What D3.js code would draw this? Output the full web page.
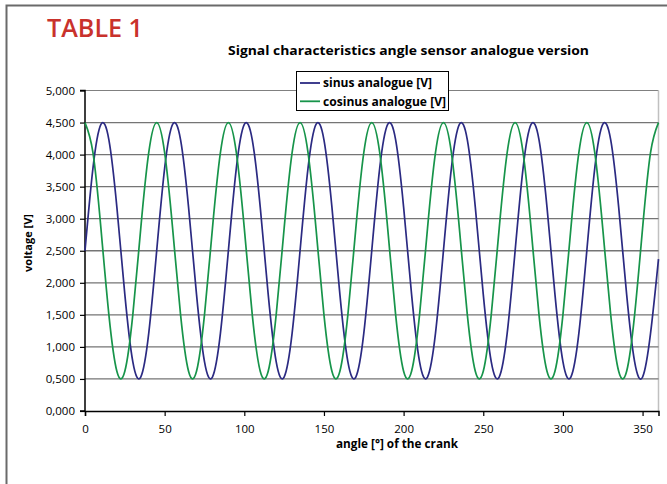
<!DOCTYPE html>
<html>
<head>
<meta charset="utf-8">
<script src="https://cdn.jsdelivr.net/npm/d3@7/dist/d3.min.js"></script>
<style>
  html, body { margin: 0; padding: 0; background: #fff; }
  svg { display: block; }
  text { font-family: "Open Sans", "DejaVu Sans", sans-serif; }
</style>
</head>
<body>
<svg id="chart" width="667" height="484"></svg>
<script>
// ---- data ----
const angles = [
  0,5,10,15,20,25,30,35,40,45,50,55,60,65,70,75,80,85,90,95,100,105,110,115,120,125,130,135,140,145,
  150,155,160,165,170,175,180,185,190,195,200,205,210,215,220,225,230,235,240,245,250,255,260,265,270,
  275,280,285,290,295,300,305,310,315,320,325,330,335,340,345,350,355,360
];
const sinusValues = [
  2.50,3.79,4.47,4.23,3.18,1.82,0.77,0.53,1.21,
  2.50,3.79,4.47,4.23,3.18,1.82,0.77,0.53,1.21,
  2.50,3.79,4.47,4.23,3.18,1.82,0.77,0.53,1.21,
  2.50,3.79,4.47,4.23,3.18,1.82,0.77,0.53,1.21,
  2.50,3.79,4.47,4.23,3.18,1.82,0.77,0.53,1.21,
  2.50,3.79,4.47,4.23,3.18,1.82,0.77,0.53,1.21,
  2.50,3.79,4.47,4.23,3.18,1.82,0.77,0.53,1.21,
  2.50,3.79,4.47,4.23,3.18,1.82,0.77,0.53,1.21,
  2.37
];
const cosinusValues = [
  4.50,4.03,2.85,1.50,0.62,0.62,1.50,2.85,4.03,
  4.50,4.03,2.85,1.50,0.62,0.62,1.50,2.85,4.03,
  4.50,4.03,2.85,1.50,0.62,0.62,1.50,2.85,4.03,
  4.50,4.03,2.85,1.50,0.62,0.62,1.50,2.85,4.03,
  4.50,4.03,2.85,1.50,0.62,0.62,1.50,2.85,4.03,
  4.50,4.03,2.85,1.50,0.62,0.62,1.50,2.85,4.03,
  4.50,4.03,2.85,1.50,0.62,0.62,1.50,2.85,4.03,
  4.50,4.03,2.85,1.50,0.62,0.62,1.50,2.85,4.03,
  4.50
];
const seriesNames = ["sinus analogue [V]", "cosinus analogue [V]"];
const xTicks = [0, 50, 100, 150, 200, 250, 300, 350];
const yTicks = [0, 0.5, 1, 1.5, 2, 2.5, 3, 3.5, 4, 4.5, 5];
const headline = "TABLE 1";
const chartTitle = "Signal characteristics angle sensor analogue version";
const xTitle = "angle [°] of the crank";
const yTitle = "voltage [V]";

// ---- layout ----
const svg = d3.select("#chart");
const plot = { left: 85, right: 658.5, top: 90.5, bottom: 411 };
const x = d3.scaleLinear().domain([0, 360]).range([plot.left, plot.right]);
const y = d3.scaleLinear().domain([0, 5]).range([plot.bottom, plot.top]);
const colors = ["#2b2a82", "#17944a"];

// outer frame
svg.append("path")
  .attr("d", "M6.5,484 L6.5,5.5 L667,5.5")
  .attr("fill", "none").attr("stroke", "#6a6a6a").attr("stroke-width", 2);

// headline
svg.append("text").attr("x", 47).attr("y", 37)
  .attr("font-size", 25).attr("font-weight", 600).attr("fill", "#c9322c")
  .attr("textLength", 96).attr("lengthAdjust", "spacingAndGlyphs")
  .text(headline);

// chart title
svg.append("text").attr("x", 408.5).attr("y", 55)
  .attr("text-anchor", "middle").attr("font-size", 12.5).attr("font-weight", 700)
  .attr("textLength", 361).attr("lengthAdjust", "spacingAndGlyphs")
  .text(chartTitle);

// plot area borders (top and right, light)
svg.append("line").attr("x1", plot.left).attr("x2", plot.right)
  .attr("y1", plot.top).attr("y2", plot.top).attr("stroke", "#808080").attr("stroke-width", 1.2);
svg.append("line").attr("x1", plot.right).attr("x2", plot.right)
  .attr("y1", plot.top).attr("y2", plot.bottom).attr("stroke", "#c0c0c0").attr("stroke-width", 1.5);

// gridlines
svg.append("g").selectAll("line").data(yTicks.filter(d => d > 0 && d < 5)).join("line")
  .attr("x1", plot.left).attr("x2", plot.right)
  .attr("y1", d => y(d)).attr("y2", d => y(d))
  .attr("stroke", "#757575").attr("stroke-width", 1.3);

// axes
const fmt = d => d3.format(".3f")(d).replace(".", ",");
const yAxis = svg.append("g").attr("transform", `translate(${plot.left},0)`)
  .call(d3.axisLeft(y).tickValues(yTicks).tickFormat(fmt).tickSize(5).tickPadding(5));
const xAxis = svg.append("g").attr("transform", `translate(0,${plot.bottom})`)
  .call(d3.axisBottom(x).tickValues(xTicks).tickFormat(d3.format("d")).tickSize(5).tickPadding(9));
[yAxis, xAxis].forEach(g => {
  g.select(".domain").attr("stroke", "#000").attr("stroke-width", 1.5);
  g.selectAll(".tick line").attr("stroke", "#000").attr("stroke-width", 1.2);
  g.selectAll(".tick text").attr("font-size", 11.5).attr("fill", "#000")
    .attr("font-family", "'Open Sans', sans-serif");
});
yAxis.select(".domain").attr("d", `M-5,${plot.top}H0V${plot.bottom}H-5`);

// lines
const lineGen = d3.line().x(d => x(d[0])).y(d => y(d[1])).curve(d3.curveNatural);
const series = [sinusValues, cosinusValues];
series.forEach((vals, i) => {
  svg.append("path")
    .datum(angles.map((a, j) => [a, vals[j]]))
    .attr("fill", "none").attr("stroke", colors[i]).attr("stroke-width", 1.7)
    .attr("d", lineGen);
});

// axis titles
svg.append("text").attr("x", 397).attr("y", 448)
  .attr("text-anchor", "middle").attr("font-size", 11.5).attr("font-weight", 700)
  .attr("textLength", 122).attr("lengthAdjust", "spacingAndGlyphs")
  .text(xTitle);
svg.append("text").attr("transform", "translate(32,243) rotate(-90)")
  .attr("text-anchor", "middle").attr("font-size", 11).attr("font-weight", 700)
  .text(yTitle);

// legend
const legendWidths = [109, 123];
const lg = svg.append("g");
lg.append("rect").attr("x", 296.5).attr("y", 71.5).attr("width", 152).attr("height", 39)
  .attr("fill", "#fff").attr("stroke", "#000").attr("stroke-width", 1);
seriesNames.forEach((name, i) => {
  const yy = 83 + i * 18.3;
  lg.append("line").attr("x1", 300).attr("x2", 320).attr("y1", yy).attr("y2", yy)
    .attr("stroke", colors[i]).attr("stroke-width", 1.8);
  lg.append("text").attr("x", 323).attr("y", yy + 4.2)
    .attr("font-size", 11.5).attr("font-weight", 700)
    .attr("textLength", legendWidths[i]).attr("lengthAdjust", "spacingAndGlyphs")
    .text(name);
});
</script>
</body>
</html>
